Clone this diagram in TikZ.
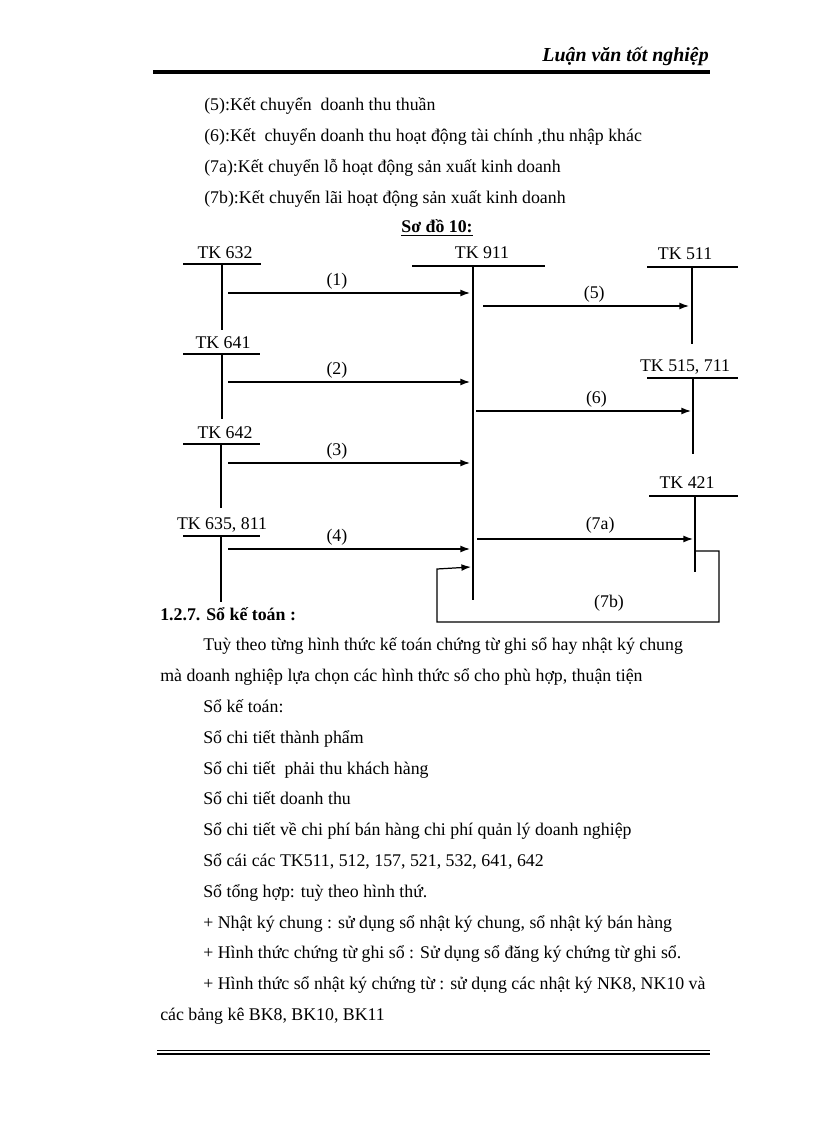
\documentclass[tikz,border=0pt]{standalone}
\usepackage{fontspec}
\setmainfont{Liberation Serif}
\usetikzlibrary{arrows.meta}

\begin{document}
\begin{tikzpicture}[x = 0.7292pt, y = -0.7292pt, > = {Latex[length=7pt, width=5pt]},
	every node/.style = {font=\fontsize{13}{15}\selectfont, inner sep=0pt},
	txt/.style = {anchor=base west},
	acct/.style = {anchor=base},
	bar/.style = {line width=1.2pt},
	leg/.style = {line width=1pt},
	flow/.style = {->, line width=0.9pt},
	lbl/.style = {above=2pt}]
	
	\useasboundingbox (0, 0) rectangle (816, 1123);
	
	% Page header
	
	\node [anchor=base east, font=\fontsize{14.5}{16}\selectfont\bfseries\itshape] (head) at (709, 62) {Luận văn tốt nghiệp};
	\draw [line width=2.2pt] (153, 72) -- (710, 72);
	
	% Notes above the diagram
	
	\node [txt] (note5) at (204, 111) {(5):Kết chuyển~ doanh thu thuần};
	\node [txt] (note6) at (204, 142) {(6):Kết~ chuyển doanh thu hoạt động tài chính ,thu nhập khác};
	\node [txt] (note7a) at (204, 173) {(7a):Kết chuyển lỗ hoạt động sản xuất kinh doanh};
	\node [txt] (note7b) at (204, 204) {(7b):Kết chuyển lãi hoạt động sản xuất kinh doanh};
	
	\node [acct] (title) at (437, 233) {\bfseries\underline{Sơ đồ 10:}};
	
	% Accounts on the left
	
	\node [acct] (tk632) at (225, 259) {TK 632};
	\draw [bar] (183, 264) -- (261, 264);
	\draw [leg] (222, 264) -- (222, 330);
	
	\node [acct] (tk641) at (223, 348) {TK 641};
	\draw [bar] (183, 354) -- (260, 354);
	\draw [leg] (222, 354) -- (222, 419);
	
	\node [acct] (tk642) at (225, 438) {TK 642};
	\draw [bar] (183, 444) -- (260, 444);
	\draw [leg] (221, 444) -- (221, 508);
	
	\node [acct] (tk635) at (222, 529) {TK 635, 811};
	\draw [bar] (183, 536) -- (260, 536);
	\draw [leg] (221, 536) -- (221, 602);
	
	% Account 911 in the middle
	
	\node [acct] (tk911) at (482, 259) {TK 911};
	\draw [bar] (412, 266) -- (545, 266);
	\draw [leg] (473, 266) -- (473, 600);
	
	% Accounts on the right
	
	\node [acct] (tk511) at (685, 260) {TK 511};
	\draw [bar] (647, 267) -- (738, 267);
	\draw [leg] (692, 267) -- (692, 344);
	
	\node [acct] (tk515) at (685, 371) {TK 515, 711};
	\draw [bar] (647, 378) -- (738, 378);
	\draw [leg] (693, 378) -- (693, 454);
	
	\node [acct] (tk421) at (687, 488) {TK 421};
	\draw [bar] (649, 496) -- (738, 496);
	\draw [leg] (695, 496) -- (695, 572);
	
	% Ends of the flows
	
	\coordinate (f1) at (228, 293);   \coordinate (t1) at (470, 293);
	\coordinate (f2) at (228, 382);   \coordinate (t2) at (470, 382);
	\coordinate (f3) at (228, 463);   \coordinate (t3) at (470, 463);
	\coordinate (f4) at (228, 549);   \coordinate (t4) at (470, 549);
	\coordinate (f5) at (483, 306);   \coordinate (t5) at (689, 306);
	\coordinate (f6) at (476, 411);   \coordinate (t6) at (691, 411);
	\coordinate (f7a) at (477, 539);  \coordinate (t7a) at (693, 539);
	\coordinate (f7b) at (695, 551);  \coordinate (k7b) at (719, 622);
	\coordinate (j7b) at (437, 569);  \coordinate (t7b) at (471, 567);
	
	% Flows into and out of 911
	
	\begin{scope}[flow]
	
		\draw (f1) -- node [lbl, pos=0.45] (n1) {(1)} (t1);
		\draw (f2) -- node [lbl, pos=0.45] (n2) {(2)} (t2);
		\draw (f3) -- node [lbl, pos=0.45] (n3) {(3)} (t3);
		\draw (f4) -- node [lbl, pos=0.45] (n4) {(4)} (t4);
		\draw (f5) -- node [lbl, pos=0.54] (n5) {(5)} (t5);
		\draw (f6) -- node [lbl, pos=0.56] (n6) {(6)} (t6);
		\draw (f7a) -- node [above=4pt, pos=0.57] (n7a) {(7a)} (t7a);
		\draw (f7b) -| (k7b) -| (j7b) -- (t7b);
		
	\end{scope}
	
	\node (n7b) at (609, 603) {(7b)};
	
	% Text below the diagram
	
	\node [txt, font=\fontsize{13}{15}\selectfont\bfseries] (sec) at (160, 620) {1.2.7. Sổ kế toán :};
	\node [txt] (par1) at (203, 650.8) {Tuỳ theo từng hình thức kế toán chứng từ ghi sổ hay nhật ký chung};
	\node [txt] (par2) at (160, 681.6) {mà doanh nghiệp lựa chọn các hình thức sổ cho phù hợp, thuận tiện};
	\node [txt] (book) at (203, 712.4) {Sổ kế toán:};
	\node [txt] (book1) at (203, 743.2) {Sổ chi tiết thành phẩm};
	\node [txt] (book2) at (203, 774) {Sổ chi tiết~ phải thu khách hàng};
	\node [txt] (book3) at (203, 804.8) {Sổ chi tiết doanh thu};
	\node [txt] (book4) at (203, 835.6) {Sổ chi tiết về chi phí bán hàng chi phí quản lý doanh nghiệp};
	\node [txt] (book5) at (203, 866.4) {Sổ cái các TK511, 512, 157, 521, 532, 641, 642};
	\node [txt] (book6) at (203, 897.2) {Sổ tổng hợp: tuỳ theo hình thứ.};
	\node [txt] (form1) at (203, 928) {+ Nhật ký chung : sử dụng sổ nhật ký chung, sổ nhật ký bán hàng};
	\node [txt] (form2) at (203, 958.8) {+ Hình thức chứng từ ghi sổ : Sử dụng sổ đăng ký chứng từ ghi sổ.};
	\node [txt] (form3) at (203, 989.6) {+ Hình thức sổ nhật ký chứng từ : sử dụng các nhật ký NK8, NK10 và};
	\node [txt] (form3b) at (160, 1020.4) {các bảng kê BK8, BK10, BK11};
	
	% Page footer
	
	\draw [line width=0.6pt] (157, 1050.5) -- (710, 1050.5);
	\draw [line width=1.6pt] (157, 1054) -- (710, 1054);

\end{tikzpicture}
\end{document}
